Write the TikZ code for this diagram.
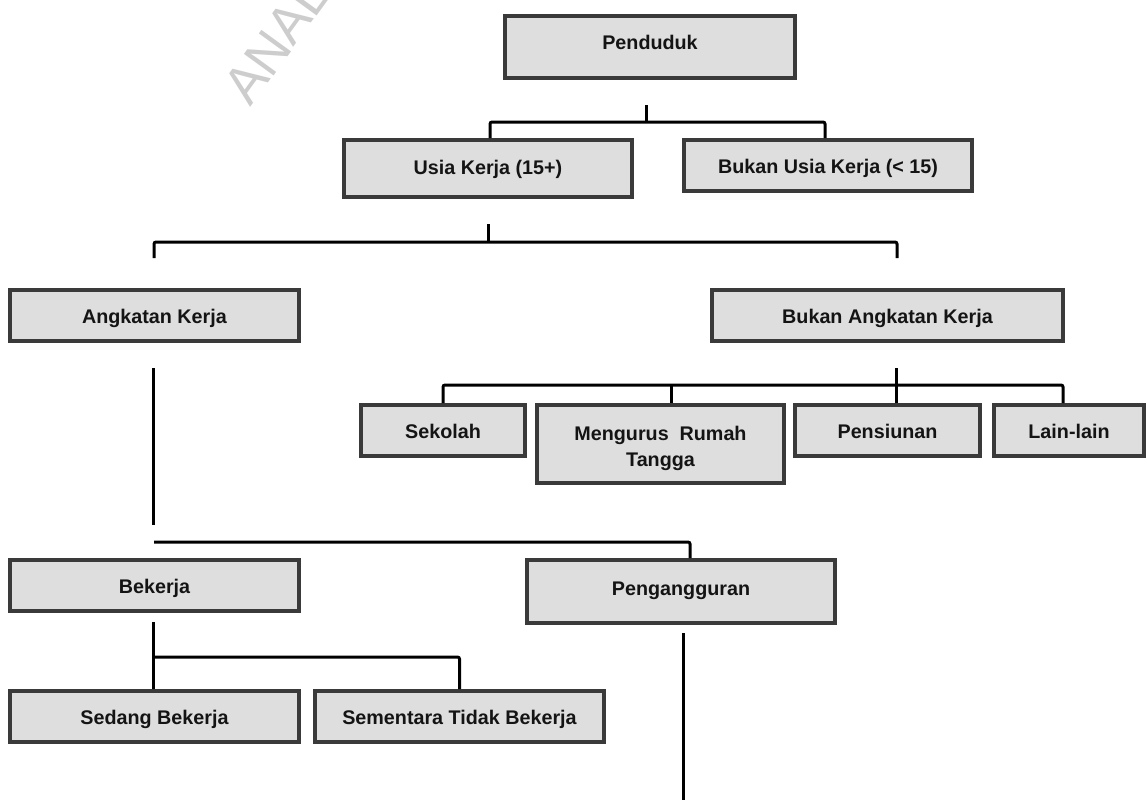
\documentclass[tikz,border=0pt]{standalone}
\usepackage{fontspec}
\setmainfont{Liberation Sans}
\definecolor{boxedge}{HTML}{3A3A3A}
\definecolor{boxfill}{HTML}{DEDEDE}
\definecolor{textc}{HTML}{141414}
\definecolor{wmark}{HTML}{CDCDCD}
\begin{document}
\begin{tikzpicture}[x=0.75pt,y=-0.75pt,
  box/.style={draw=boxedge, fill=boxfill, line width=3pt, rectangle, inner sep=0pt,
    font=\fontsize{14.8}{19.5}\selectfont\bfseries, text=textc, align=center,
    text height=12pt, text depth=0pt},
  conn/.style={draw=black, line width=2.25pt, rounded corners=1.5pt}]
\useasboundingbox (0,0) rectangle (1147,800);

% watermark
\node[anchor=base west, rotate=54, text=wmark, font=\fontsize{40}{40}\selectfont, inner sep=0pt] (wm) at (250,108) {ANALISIS};

% boxes
\node[box, minimum width=217.5pt, minimum height=46.5pt, text depth=8.25pt] (pend) at (650,47) {Penduduk};
\node[box, minimum width=216pt, minimum height=42.75pt, text depth=3.75pt] (usia) at (488,168.5) {Usia Kerja (15+)};
\node[box, minimum width=216pt, minimum height=38.25pt] (bukanusia) at (828,165.5) {Bukan Usia Kerja (< 15)};
\node[box, minimum width=216.75pt, minimum height=38.25pt] (ak) at (154.5,315.5) {Angkatan Kerja};
\node[box, minimum width=263.25pt, minimum height=38.25pt] (bak) at (887.5,315.5) {Bukan Angkatan Kerja};
\node[box, minimum width=123pt, minimum height=38.25pt] (sek) at (443,430.5) {Sekolah};
\node[box, minimum width=185.25pt, minimum height=58.5pt, text height=, text depth=] (mrt) at (660.5,444) {\rule{0pt}{17pt}Mengurus~ Rumah\\Tangga};
\node[box, minimum width=138.75pt, minimum height=38.25pt] (pens) at (887.5,430.5) {Pensiunan};
\node[box, minimum width=112.5pt, minimum height=38.25pt] (lain) at (1069,430.5) {Lain-lain};
\node[box, minimum width=216.75pt, minimum height=38.25pt] (bek) at (154.5,585.5) {Bekerja};
\node[box, minimum width=231pt, minimum height=47.25pt, text depth=6.75pt] (peng) at (681,591.5) {Pengangguran};
\node[box, minimum width=216.75pt, minimum height=38.25pt] (sedang) at (154.5,716.5) {Sedang Bekerja};
\node[box, minimum width=216.75pt, minimum height=38.25pt] (sem) at (459.5,716.5) {Sementara Tidak Bekerja};

% level 1
\coordinate (ps) at (646,105);
\coordinate (pj) at (646,122);
\draw[conn] (ps) -- (pj);
\draw[conn] ([xshift=1.5pt]usia.north) |- (pj) -| ([xshift=-2.25pt]bukanusia.north);

% level 2
\coordinate (us) at (488,224);
\coordinate (uj) at (488,242);
\coordinate (ul) at (154,258);
\coordinate (ur) at (897,258);
\draw[conn] (us) -- (uj);
\draw[conn] (ul) |- (uj) -| (ur);

% bukan angkatan kerja
\coordinate (bs) at (896,368);
\coordinate (bj) at (896,385);
\draw[conn] (bs) -- (bs |- pens.north);
\draw[conn] (sek.north) |- (bj) -| ([xshift=-4.5pt]lain.north);
\draw[conn] ([xshift=7.875pt]mrt.north) -- ([xshift=7.875pt]mrt.north |- bj);

% angkatan kerja
\coordinate (a1) at (153,368);
\coordinate (a2) at (153,525);
\draw[conn] (a1) -- (a2);
\coordinate (h1) at (154,542);
\draw[conn] (h1) -| ([xshift=6.75pt]peng.north);

% bekerja
\coordinate (k1) at (153,622);
\coordinate (kj) at (153,657);
\draw[conn] (k1) -- (k1 |- sedang.north);
\draw[conn] (kj) -| (sem.north);

% pengangguran
\coordinate (g1) at (683,633);
\coordinate (g2) at (683,800);
\draw[conn] (g1) -- (g2);
\end{tikzpicture}
\end{document}
